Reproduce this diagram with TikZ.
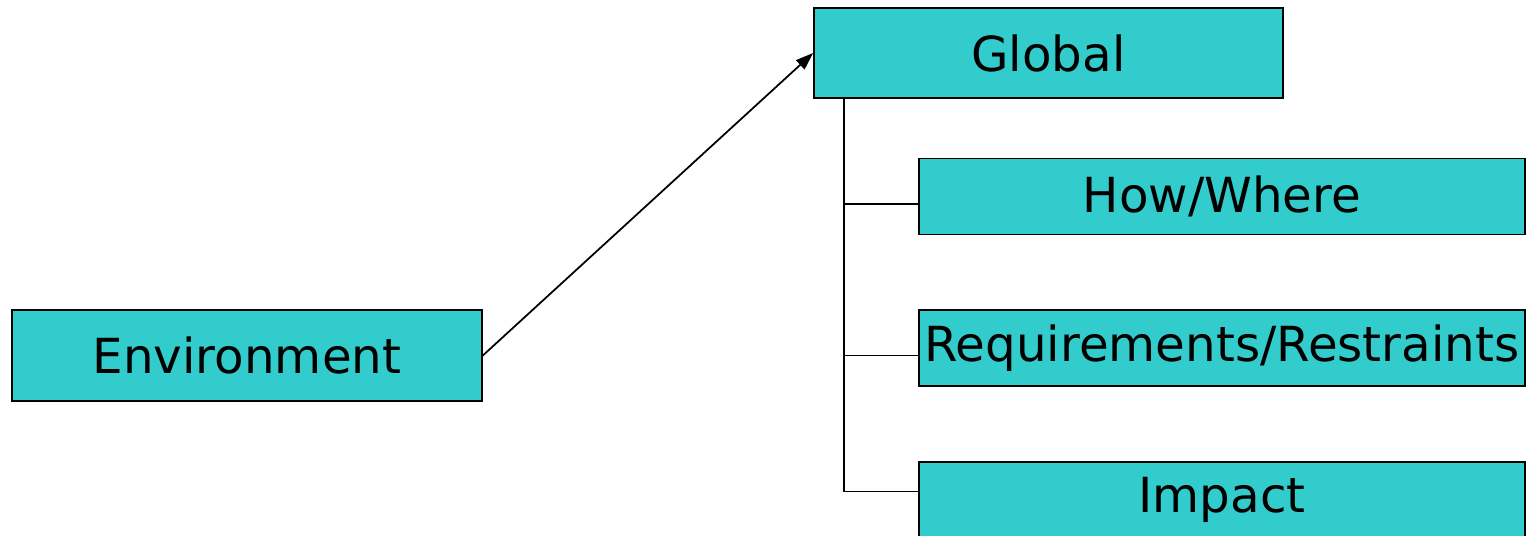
\documentclass[tikz,border=0pt]{standalone}
\usepackage{fontspec}
\setmainfont{DejaVu Sans}
\usepackage{xcolor}
\usetikzlibrary{arrows.meta}

\definecolor{boxteal}{RGB}{51,204,204}
\tikzset{
  topic/.style={draw, fill=boxteal, line width=1pt, inner sep=0pt,
    font=\fontsize{27.5}{31}\selectfont},
  subtopic/.style={topic, minimum width=12.12cm, minimum height=1.52cm},
  link/.style={line width=1pt},
}

\begin{document}
\begin{tikzpicture}[x=0.02cm, y=-0.02cm]
% Page frame
\clip (0,0) rectangle (1526,536);

% Main boxes
\node[topic, minimum width=9.4cm, minimum height=1.82cm] (environment) at (247,355.5) {Environment};
\node[topic, minimum width=9.38cm, minimum height=1.8cm] (global) at (1048.5,53) {Global};

% Sub boxes of Global
\node[subtopic] (howwhere) at (1222,196.5) {How/Where};
\node[subtopic] (requirements) at (1222,348) {Requirements/Restraints};
\node[subtopic] (impact) at (1222,500) {Impact};

% Arrow between the main boxes
\draw[link, -{Triangle[length=10pt, width=7pt]}] (environment.east) -- (global.west);

% Tree lines
\coordinate (trunktop) at ([xshift=0.62cm]global.south west);
\coordinate (howend) at ([yshift=-0.15cm]howwhere.west);
\coordinate (reqend) at ([yshift=-0.15cm]requirements.west);
\coordinate (impend) at ([yshift=0.17cm]impact.west);
\draw[link] (trunktop) |- (impend);
\draw[link] (trunktop |- howend) -- (howend);
\draw[link] (trunktop |- reqend) -- (reqend);

\end{tikzpicture}
\end{document}
